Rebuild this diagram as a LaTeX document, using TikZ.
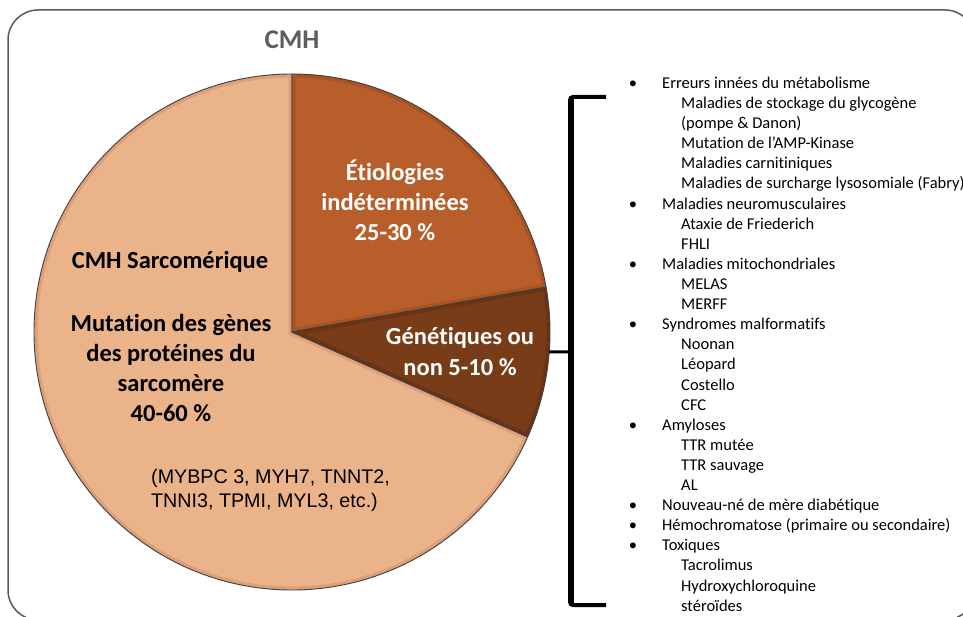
\documentclass[tikz,border=0pt]{standalone}
\usepackage{fontspec}
\setmainfont{Carlito}[Ligatures={NoCommon}]
\newfontfamily\arialfont{Liberation Sans}
\definecolor{sarc}{HTML}{EAB38A}
\definecolor{sarcdark}{HTML}{DBA079}
\definecolor{etio}{HTML}{B75E2B}
\definecolor{etiodark}{HTML}{A85322}
\definecolor{gene}{HTML}{783C19}
\definecolor{genedark}{HTML}{6A3313}
\definecolor{titlegray}{HTML}{5E5E5E}
\definecolor{framegray}{HTML}{5A5A5A}
\tikzset{
  frame/.style={draw=framegray, line width=1.5pt, rounded corners=30pt},
  outline/.style={draw=black!75, line width=0.9pt, line join=round},
  titletxt/.style={font=\fontsize{27}{30}\selectfont\bfseries, text=titlegray},
  bigbold/.style={font=\fontsize{24.5}{30}\selectfont\bfseries, align=center, inner sep=0pt},
  genetxt/.style={font=\arialfont\fontsize{19.7}{24}\selectfont, align=left, inner sep=0pt},
  listtxt/.style={font=\fontsize{16.5}{20}\selectfont, inner sep=0pt},
  bracevert/.style={line width=6pt, line cap=butt},
  bracearm/.style={line width=4pt, line cap=butt},
  ticksty/.style={line width=3pt}
}
\begin{document}
\begin{tikzpicture}[x=1pt,y=-1pt]
\useasboundingbox (0,0) rectangle (963,617);
\begin{scope}
  \clip (0,0) rectangle (963,617);
  \draw[frame] (8,10) rectangle (975,620);
\end{scope}

\node[titletxt] (title) at (292,40) {CMH};

% pie
\begin{scope}[shift={(292,332)}, y=1pt]
  \def\R{258}
  \foreach \a/\b/\c/\d in {90/336/sarc/sarcdark, 10/90/etio/etiodark, -24/10/gene/genedark}{
    \begin{scope}
      \clip (0,0) -- (\a:\R) arc[start angle=\a, end angle=\b, radius=\R] -- cycle;
      \fill[\c] (0,0) -- (\a:\R) arc[start angle=\a, end angle=\b, radius=\R] -- cycle;
      \draw[\d, line width=7pt] (0,0) -- (\a:\R) arc[start angle=\a, end angle=\b, radius=\R] -- cycle;
    \end{scope}
    \draw[outline] (0,0) -- (\a:\R) arc[start angle=\a, end angle=\b, radius=\R] -- cycle;
  }
  \coordinate (pe) at (-4.4:\R);
\end{scope}

% pie labels
\node[bigbold] (s1) at (170,262) {CMH Sarcomérique};
\node[bigbold] (s2) at (171,368) {Mutation des gènes\\des protéines du\\sarcomère\\40-60 \%};
\node[genetxt, anchor=west] (genes) at (151,490) {(MYBPC 3, MYH7, TNNT2,\\TNNI3, TPMI, MYL3, etc.)};
\node[bigbold, text=white] (etiol) at (395,200) {Étiologies\\indéterminées\\25-30 \%};
\node[bigbold, text=white, font=\fontsize{24.5}{31}\selectfont\bfseries] (genet) at (460,352) {Génétiques ou\\non 5-10 \%};

% bracket
\coordinate (bt) at (606,97);
\coordinate (bvt) at (571,97);
\coordinate (bvb) at (571,605);
\coordinate (bb) at (606,605);
\coordinate (bm) at (571,352);
\draw[bracevert] ([yshift=-2pt]bvt) -- ([yshift=2pt]bvb);
\draw[bracearm, rounded corners=3pt] (bt) -- ([xshift=-1pt]bvt) -- ([xshift=-1pt,yshift=-8pt]bvt);
\draw[bracearm, rounded corners=3pt] (bb) -- ([xshift=-1pt]bvb) -- ([xshift=-1pt,yshift=8pt]bvb);
\draw[ticksty] (pe) -- (bm);

% list
\foreach \x/\t [count=\i from 0] in {
  662/Erreurs innées du métabolisme,
  681/Maladies de stockage du glycogène,
  681/(pompe \& Danon),
  681/Mutation de l’AMP-Kinase,
  681/Maladies carnitiniques,
  681/Maladies de surcharge lysosomiale (Fabry),
  662/Maladies neuromusculaires,
  681/Ataxie de Friederich,
  681/FHLI,
  662/Maladies mitochondriales,
  681/MELAS,
  681/MERFF,
  662/Syndromes malformatifs,
  681/Noonan,
  681/Léopard,
  681/Costello,
  681/CFC,
  662/Amyloses,
  681/TTR mutée,
  681/TTR sauvage,
  681/AL,
  662/Nouveau-né de mère diabétique,
  662/Hémochromatose (primaire ou secondaire),
  662/Toxiques,
  681/Tacrolimus,
  681/Hydroxychloroquine,
  681/stéroïdes}{
  \node[listtxt, anchor=base west] (L\i) at (\x, {88.5+20.1*\i}) {\t};
  \ifnum\x=662
    \node[listtxt, anchor=base] (B\i) at (633, {88.5+20.1*\i}) {•};
  \fi
}
\end{tikzpicture}
\end{document}
